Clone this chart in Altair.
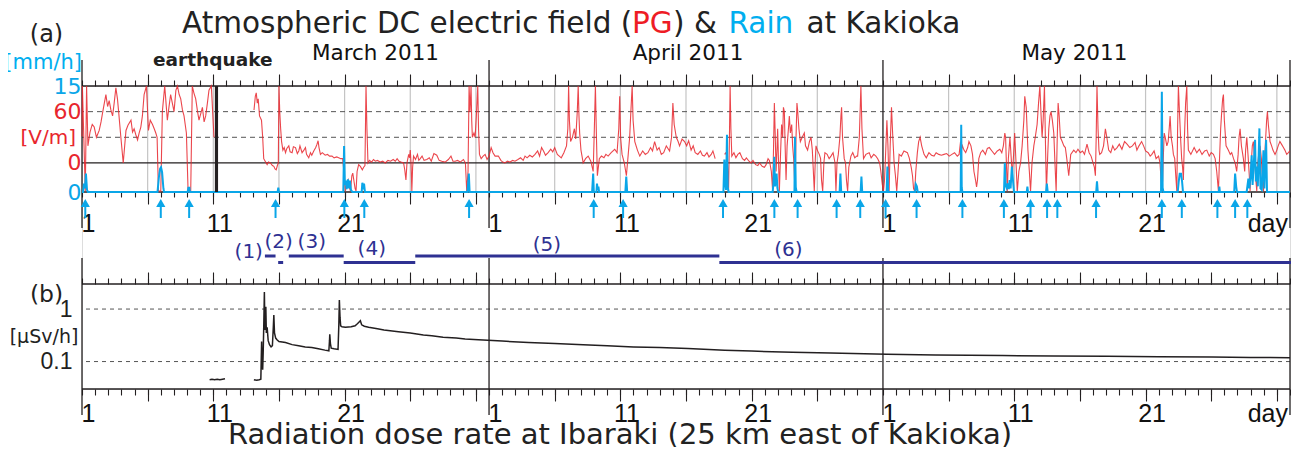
import altair as alt
import pandas as pd

FONT = "Liberation Sans"
WIDE = "DejaVu Sans"
RED = "#e8262d"
CYAN = "#0aa6e8"
BLUE = "#2e3192"
INK = "#231f20"

W, H = 1208, 303          # plot group (both panels)
X0, Y0 = 82, 86           # page position of the group's top-left corner
DAYS = 92


def gx(px):
    return px - X0


def gy(py):
    return py - Y0


# ---------------- data (days since 2011-03-01 00:00 UT) ----------------
# PG [V/m], three recorded segments
pg1_day = [0.0, 0.03, 0.25, 0.35, 0.45, 0.61, 0.78, 0.93, 1.1, 1.31, 1.45, 1.56, 1.7, 1.82, 1.95, 2.07, 2.2,
           2.33, 2.45, 2.58, 2.7, 2.79, 2.96, 3.14, 3.35, 3.5, 3.73, 3.85, 3.97, 4.1, 4.23, 4.35, 4.48, 4.6,
           4.73, 4.91, 5.06, 5.2, 5.37, 5.5, 5.62, 5.72, 5.82, 6.0, 6.12, 6.3, 6.4, 6.5, 6.62, 6.75, 6.88,
           7.01, 7.15, 7.27, 7.4, 7.52, 7.65, 7.77, 7.95, 8.08, 8.28, 8.4, 8.52, 8.66, 8.8, 8.91, 9.05,
           9.17, 9.3, 9.42, 9.55, 9.67, 9.85, 9.95, 10.05]
pg1_val = [31, 90, -33, 90, 20, 36, 45, 42, 30, 38, 48, 58, 70, 80, 66, 73, 62,
           55, 70, 88, 75, 60, 30, 0, 38, 44, 50, 36, 40, 33, 27, 35, 42, 55,
           80, 90, 38, 50, 45, 40, 35, 30, -33, -33, 60, 90, 70, 50, 65, 80, 70,
           60, 85, 90, 80, 75, 62, 55, 35, -33, -33, 90, 82, 75, 60, 50, 58,
           65, 48, 55, 70, 85, 90, 60, 30]

pg2_day = [13.1, 13.2, 13.27, 13.35, 13.42, 13.52, 13.67, 13.76, 13.84, 13.95, 14.1, 14.2, 14.35, 14.5, 14.61,
           14.7, 14.79, 14.88, 14.95, 15.0, 15.06, 15.13, 15.2, 15.3, 15.4, 15.5, 15.6, 15.75, 15.85, 16.0,
           16.1, 16.26, 16.4, 16.51, 16.6, 16.76, 16.9, 17.02, 17.1, 17.27, 17.4, 17.5, 17.65, 17.8, 17.9,
           17.98, 18.05, 18.16, 18.3, 18.52, 18.7, 18.85, 19.04, 19.2, 19.4, 19.55, 19.7, 19.85, 19.96, 20.06,
           20.15, 20.27, 20.35, 20.45, 20.55, 20.62, 20.72, 20.8, 20.87, 20.95, 21.07, 21.2, 21.35, 21.45,
           21.55, 21.63, 21.7, 21.78, 21.9, 22.05, 22.2, 22.34, 22.5, 22.7, 22.9, 23.1, 23.3, 23.5, 23.7,
           23.86, 24.0, 24.15, 24.3, 24.49, 24.58, 24.67, 24.75, 24.88, 24.95, 25.0, 25.06, 25.12, 25.18,
           25.25, 25.4, 25.55, 25.65, 25.76, 25.9, 26.05, 26.26, 26.45, 26.6, 26.8, 27.02, 27.2, 27.4, 27.65,
           27.9, 28.1, 28.25, 28.42, 28.6, 28.8, 29.05, 29.2, 29.3, 29.4, 29.48, 29.55, 29.63, 29.68, 29.73,
           29.85, 29.94, 30.05, 30.14, 30.2, 30.27, 30.4, 30.55, 30.7, 30.85, 31.0, 31.16, 31.3, 31.46,
           31.71, 31.9, 32.05, 32.2, 32.4, 32.6, 32.8, 32.98, 33.2, 33.4, 33.6, 33.74, 33.9, 34.1, 34.3,
           34.5, 34.7, 34.85, 35.0, 35.15, 35.3, 35.5, 35.7, 35.85, 36.0, 36.2, 36.35, 36.5, 36.7, 36.9,
           37.0, 37.06, 37.12, 37.21, 37.35, 37.5, 37.6, 37.72, 37.79, 37.85, 37.9, 38.0, 38.17, 38.35,
           38.55, 38.75, 38.93, 39.02, 39.1, 39.18, 39.25, 39.4, 39.56, 39.75, 39.9, 40.07, 40.3, 40.57,
           40.75, 40.88, 40.95, 41.02, 41.13, 41.3, 41.46, 41.6, 41.71, 41.8, 41.9, 41.97, 42.1, 42.3,
           42.48, 42.7, 42.9, 43.1, 43.3, 43.45, 43.61, 43.8, 43.95, 44.12, 44.3, 44.5, 44.75, 44.9, 45.0,
           45.1, 45.26, 45.4, 45.51, 45.7, 45.89, 46.05, 46.2, 46.39, 46.55, 46.7, 46.9, 47.1, 47.25, 47.4,
           47.6, 47.75, 47.92, 48.05, 48.22]
pg2_val = [62, 78, 82, 70, 75, 55, 50, 30, 5, 2, -2, 1, 0, -3, -4,
           -7, -8, -3, 0, 90, 60, 40, 25, 15, 18, 12, 17, 20, 13, 12,
           19, 18, 11, 14, 20, 12, 15, 18, 10, 6, 12, 9, 14, 18, 22,
           26, 18, 10, 12, 9, 10, 8, 8, 6, 7, 6, 5, 5, -12, -33,
           -25, -20, -28, -33, -15, -12, -22, -30, -33, -10, -2, -4, -8, -5,
           -3, 90, 40, 0, 3, 1, 4, 2, 3, 1, 2, 0, 3, 2, 4,
           2, 5, 2, 1, 0, -8, -20, 0, 10, 6, 15, 0, -33, -5,
           8, 4, 10, 3, 5, 8, 3, 4, 6, 2, 11, 9, 3, 2, 1,
           4, 8, 2, 2, 3, 1, 4, 0, -33, -10, 90, 60, 90, 50, 30,
           35, 30, 60, 90, 40, 10, 5, 8, 10, 4, 8, 18, 12, 8,
           8, 3, 1, 0, 2, 1, 3, 2, 4, 6, 3, 8, 6, 9, 7,
           10, 14, 8, 18, 14, 9, 12, 16, 13, 18, 10, 8, 6, 12, 20,
           40, 90, 50, 25, 30, 40, 28, 60, 90, 55, 35, 15, 0, 5,
           8, 2, -10, 40, 90, 30, -15, 5, 8, 6, 10, 8, 12, 16,
           12, 40, 78, 30, 10, 0, -15, 10, 30, 60, 90, 50, 25, 15,
           8, 14, 10, 12, 18, 14, 25, 15, 18, 10, 12, 20, 14, 30, 70,
           45, 30, 25, 20, 28, 25, 20, 26, 15, 20, 12, 10, 14, 9, 8,
           12, 7, 10, 14, 5]

pg3_day = [48.94, 49.04, 49.14, 49.24, 49.3, 49.36, 49.42, 49.49, 49.65, 49.8, 49.95, 50.1, 50.3, 50.46, 50.6,
           50.8, 50.96, 51.1, 51.3, 51.47, 51.6, 51.8, 51.97, 52.1, 52.25, 52.35, 52.5, 52.6, 52.67, 52.73,
           52.8, 52.86, 52.93, 52.98, 53.05, 53.11, 53.2, 53.28, 53.36, 53.42, 53.49, 53.55, 53.62, 53.7,
           53.8, 53.87, 53.95, 54.05, 54.12, 54.2, 54.3, 54.38, 54.45, 54.5, 54.6, 54.71, 54.85, 55.01, 55.1,
           55.26, 55.4, 55.52, 55.62, 55.7, 55.77, 55.85, 55.9, 56.0, 56.15, 56.25, 56.32, 56.41, 56.5, 56.58,
           56.75, 56.9, 57.04, 57.2, 57.35, 57.42, 57.5, 57.6, 57.72, 57.8, 57.85, 57.92, 58.05, 58.15, 58.22,
           58.31, 58.4, 58.56, 58.7, 58.85, 59.0, 59.07, 59.2, 59.32, 59.4, 59.52, 59.7, 59.95, 60.1, 60.3,
           60.46, 60.6, 60.75, 60.84, 60.95, 61.04, 61.12, 61.2, 61.3, 61.38, 61.47, 61.55, 61.65, 61.75,
           61.85, 61.95, 62.05, 62.15, 62.23, 62.4, 62.6, 62.86, 63.0, 63.15, 63.25, 63.33, 63.42, 63.5,
           63.62, 63.72, 63.83, 63.95, 64.13, 64.3, 64.5, 64.7, 64.89, 65.05, 65.25, 65.45, 65.65, 65.85,
           66.05, 66.25, 66.45, 66.66, 66.8, 66.91, 66.98, 67.05, 67.17, 67.3, 67.45, 67.55, 67.7, 67.82,
           67.93, 68.05, 68.13, 68.2, 68.3, 68.44, 68.6, 68.8, 68.95, 69.1, 69.3, 69.5, 69.71, 69.9, 70.05,
           70.17, 70.28, 70.34, 70.4, 70.47, 70.55, 70.67, 70.75, 70.85, 70.95, 71.03, 71.12, 71.23, 71.35,
           71.48, 71.6, 71.73, 71.8, 71.91, 72.04, 72.15, 72.24, 72.35, 72.49, 72.6, 72.74, 72.85, 72.95,
           73.03, 73.12, 73.2, 73.3, 73.38, 73.45, 73.55, 73.63, 73.72, 73.8, 73.9, 74.01, 74.1, 74.19,
           74.26, 74.34, 74.42, 74.51, 74.65, 74.78, 74.89, 75.0, 75.15, 75.3, 75.53, 75.7, 75.85, 76.03,
           76.2, 76.35, 76.54, 76.7, 76.85, 77.0, 77.1, 77.18, 77.24, 77.3, 77.38, 77.45, 77.51, 77.65,
           77.8, 77.94, 78.05, 78.19, 78.35, 78.5, 78.65, 78.83, 79.0, 79.2, 79.4, 79.59, 79.8, 80.0, 80.2,
           80.34, 80.5, 80.7, 80.85, 81.0, 81.2, 81.35, 81.48, 81.65, 81.8, 81.99, 82.1, 82.18, 82.24,
           82.3, 82.36, 82.42, 82.5, 82.62, 82.72, 82.8, 82.87, 82.95, 83.05, 83.12, 83.22, 83.3, 83.38,
           83.44, 83.5, 83.58, 83.68, 83.75, 83.82, 83.88, 83.96, 84.05, 84.14, 84.2, 84.26, 84.45, 84.7,
           84.9, 85.1, 85.3, 85.5, 85.66, 85.85, 86.0, 86.17, 86.3, 86.42, 86.55, 86.62, 86.72, 86.8,
           86.87, 86.93, 87.0, 87.13, 87.3, 87.45, 87.56, 87.7, 87.82, 87.94, 88.05, 88.12, 88.2, 88.3,
           88.45, 88.55, 88.62, 88.71, 88.8, 88.9, 88.96, 89.05, 89.13, 89.21, 89.3, 89.4, 89.47, 89.55,
           89.65, 89.72, 89.82, 89.9, 89.98, 90.05, 90.15, 90.22, 90.28, 90.35, 90.48, 90.6, 90.7, 90.86,
           91.0, 91.1, 91.23, 91.35, 91.5, 91.61, 91.75, 91.88, 91.99]
pg3_val = [10, 12, 5, -33, 20, 90, 40, 8, 12, 6, 10, 12, 5, 3, 6,
           2, 0, 3, -2, -3, 0, -4, -5, -2, 5, 3, -10, -33, 20, 70,
           30, -10, 15, 40, 0, -33, 10, 45, 30, 65, 60, 20, -20, 20,
           40, 55, 35, 45, 20, 5, -33, 30, 70, 62, 40, 25, 30, 35, 20,
           15, 25, 30, 15, -10, -33, 5, 20, 15, 10, 5, -20, -33, 0, 12,
           10, 5, 8, 12, 0, -33, 0, 10, 30, 55, 65, 30, 5, 0, -20,
           -33, -5, 8, 12, 6, 8, 8, 30, 90, 40, 5, 10, 12, 6, 10,
           8, 5, 0, -10, -25, -33, -20, 10, 50, 20, -33, 20, 65, 30,
           0, -15, -33, -10, 10, 8, 14, 12, 6, -5, -15, -30, -33, -10,
           12, 25, 30, 20, 10, 6, 12, 9, 8, 12, 10, 9, 10, 11,
           8, 10, 12, 8, 10, 25, 15, 20, 15, 12, 18, 25, 20, 10,
           -10, -20, -28, -20, 5, 12, 15, 10, 17, 18, 14, 10, 14, 16, 12,
           20, 35, 30, 0, -33, 5, 30, 10, -15, 10, 35, 5, -33, -10,
           0, 20, 50, 78, 65, 15, -10, -33, 0, 20, 30, 45, 70, 90,
           60, 30, 50, 90, 20, -33, 10, 40, 55, 60, 50, 35, 0, -33,
           20, 70, 55, 30, 25, 20, 18, 5, -15, 10, 15, 12, 16, 12,
           14, 10, 22, 12, 8, 0, -5, -15, 30, 90, 40, 15, 10, 12,
           20, 40, 30, 15, 12, 20, 15, 18, 22, 16, 25, 22, 18, 20, 24,
           15, 20, 25, 20, 14, 12, 8, 10, 14, 5, 8, 0, -20, -33,
           -20, 10, 35, 30, 20, 25, 40, 55, 30, 20, 10, 5, -15, -33,
           40, 90, 60, 25, 5, -5, -20, 30, 70, 90, 40, 15, 10, 18,
           12, 16, 10, 14, 15, 8, 12, 10, 5, -10, -33, 0, 40, 60,
           75, 80, 50, 20, 15, 10, 12, 5, 0, -10, 10, 30, 40, 20,
           5, -10, 15, 30, 10, -15, -33, 0, 20, 25, 5, -20, -33, 0,
           15, 20, 5, -20, -33, 0, 30, 50, 60, 45, 25, 20, 15, 10,
           15, 20, 25, 22, 18, 15, 10, 12, 14]

# Rain [mm/h]
rain_day = [0.0, 0.08, 0.15, 0.22, 0.3, 0.38, 0.45, 5.75, 5.85, 5.95, 6.02, 6.1, 6.2, 6.25, 8.05, 8.1, 8.18,
            8.22, 14.9, 14.95, 15.0, 19.9, 19.96, 20.02, 20.1, 20.15, 20.25, 20.32, 20.4, 20.48, 20.6, 21.3,
            21.35, 21.42, 21.48, 21.55, 29.35, 29.42, 29.46, 29.52, 38.85, 38.93, 38.98, 39.18, 39.22, 39.28,
            39.33, 39.38, 41.38, 41.45, 41.52, 48.85, 48.92, 48.98, 49.05, 49.12, 49.18, 49.24, 52.6, 52.66,
            52.72, 52.78, 52.85, 52.9, 52.96, 53.02, 54.26, 54.3, 54.36, 54.42, 57.7, 57.76, 57.82, 59.3,
            59.36, 59.42, 61.28, 61.34, 61.4, 63.45, 63.5, 63.58, 63.65, 66.92, 66.96, 67.0, 67.05, 70.22,
            70.28, 70.34, 70.42, 70.5, 70.58, 70.65, 70.72, 70.82, 70.9, 70.98, 71.95, 72.0, 72.05, 73.42,
            73.48, 73.55, 77.24, 77.3, 77.36, 82.18, 82.24, 82.3, 82.36, 83.45, 83.52, 83.6, 83.7, 83.78,
            83.85, 86.58, 86.62, 86.66, 87.75, 87.82, 87.9, 87.96, 88.7, 88.83, 88.9, 89.0, 89.08, 89.15,
            89.34, 89.4, 89.47, 89.55, 89.67, 89.75, 89.85, 89.98, 90.05, 90.18, 90.25, 92.0]
rain_val = [0, 0, 1.2, 0.5, 2.6, 0.3, 0, 0, 2.0, 3.3, 3.5, 2.8, 0.5, 0, 0, 0.6, 0.6,
            0, 0, 0.6, 0, 0, 6.5, 1.0, 1.6, 0.4, 1.8, 0.5, 1.6, 0.3, 0, 0,
            1.3, 0.8, 1.2, 0, 0, 1.5, 2.6, 0, 0, 2.6, 0, 0, 1.2, 0.3,
            0.75, 0, 0, 2.2, 0, 0, 4.6, 1.2, 0.3, 8.1, 0.7, 0, 0, 1.2,
            5.0, 0.8, 1.8, 2.6, 0.6, 0, 0, 7.8, 0.7, 0, 0, 2.6, 0, 0,
            2.2, 0, 0, 3.6, 0, 0, 1.1, 0.8, 0, 0, 9.5, 0.6, 0, 0,
            4.1, 1.0, 0.6, 1.2, 0.4, 1.7, 0.5, 3.6, 1.7, 0, 0, 0.75, 0, 0,
            1.2, 0, 0, 1.5, 0, 0, 14.2, 0.6, 0, 0, 1.4, 2.6, 2.6, 1.5,
            0, 0, 0.75, 0, 0, 2.6, 0.8, 0, 0, 1.9, 0.5, 2.2, 5.2, 1.0,
            7.4, 1.5, 3.6, 0.8, 9.0, 0.5, 0.3, 5.9, 0.5, 7.4, 0, 0]

# rain onset arrows
arrow_day = [0.25, 6.0, 8.16, 14.74, 19.98, 21.5, 29.48, 38.97, 41.21, 48.82, 52.73, 54.5, 57.47, 59.27,
             61.2, 63.56, 67.05, 70.21, 72.24, 73.5, 74.28, 77.23, 82.24, 83.76, 86.47, 87.82, 88.75]

earthquake_day = [10.24]

# Radiation dose rate [uSv/h]
rad1_day = [9.72, 9.9, 10.1, 10.3, 10.5, 10.7, 10.89]
rad1_val = [0.045, 0.046, 0.045, 0.046, 0.045, 0.046, 0.047]
rad2_day = [13.09, 13.3, 13.5, 13.62, 13.68, 13.72, 13.76, 13.8, 13.85, 13.89, 13.93, 13.97, 14.0, 14.04,
            14.1, 14.18, 14.28, 14.4, 14.5, 14.57, 14.61, 14.66, 14.75, 14.85, 15.0, 15.5, 16.0, 16.5, 17.0,
            17.5, 18.0, 18.5, 18.8, 18.85, 18.87, 18.92, 18.98, 19.2, 19.5, 19.56, 19.6, 19.65, 19.7, 19.8,
            20.06, 20.5, 20.8, 20.95, 21.05, 21.2, 21.3, 21.5, 21.83, 22.5, 23.0, 24.1, 25.0, 26.0, 26.64,
            27.5, 28.5, 29.18, 30.19, 32.0, 34.0, 36.0, 38.17, 40.0, 42.0, 44.0, 46.15, 48.94, 51.0, 54.1,
            57.0, 61.3, 65.0, 70.1, 74.0, 78.06, 82.0, 86.04, 89.0, 92.0]
rad2_val = [0.045, 0.044, 0.045, 0.046, 0.24, 0.09, 0.07, 0.15, 0.6, 2.1, 0.4, 0.9, 1.1, 0.35,
            0.45, 0.25, 0.21, 0.19, 0.2, 0.45, 0.77, 0.35, 0.28, 0.26, 0.24, 0.23, 0.21, 0.2, 0.19,
            0.185, 0.175, 0.165, 0.16, 0.25, 0.33, 0.22, 0.18, 0.175, 0.17, 0.5, 1.49, 0.7, 0.48, 0.46,
            0.45, 0.46, 0.48, 0.52, 0.55, 0.6, 0.5, 0.47, 0.45, 0.42, 0.4, 0.37, 0.35, 0.32, 0.31,
            0.29, 0.28, 0.27, 0.26, 0.245, 0.23, 0.22, 0.21, 0.2, 0.19, 0.185, 0.178, 0.165, 0.158, 0.15,
            0.145, 0.138, 0.134, 0.13, 0.128, 0.126, 0.124, 0.122, 0.12, 0.118]

# periods (1)-(6)
period_label = ["(1)", "(2)", "(3)", "(4)", "(5)", "(6)"]
period_start = [13.93, 14.94, 15.75, 19.93, 25.38, 48.54]
period_end = [14.74, 15.32, 19.93, 25.38, 48.54, 92.5]
period_row = ["upper", "lower", "upper", "lower", "upper", "lower"]
period_label_day = [12.7, 14.98, 17.5, 22.07, 35.4, 53.8]
period_label_y = [252, 241.7, 241.7, 249, 245, 250]

month_name = ["March 2011", "April 2011", "May 2011"]
month_name_day = [22.35, 46.15, 75.58]
month_start = [0, 31, 61, 92]
five_day = [5, 10, 15, 20, 25, 30, 36, 41, 46, 51, 56, 66, 71, 76, 81, 86, 91]
label_day = [0, 10, 20, 31, 41, 51, 61, 71, 81]
all_days = list(range(0, 93))

# ---------------- scales ----------------
XS = alt.Scale(domain=[0, DAYS], nice=False, zero=False)
PG_SC = alt.Scale(domain=[-34, 90], range=[106, 0], nice=False, zero=False)
RAIN_SC = alt.Scale(domain=[0, 15], range=[106, 0], nice=False, zero=False)
RAD_SC = alt.Scale(type="log", domain=[0.03, 3], range=[303, 198], nice=False)


def xq(field="d"):
    return alt.X(f"{field}:Q", scale=XS, axis=None)


layers = []

# gray 5-day grid in panel (a)
layers.append(alt.Chart(pd.DataFrame({"d": five_day})).mark_rule(color="#c4c4c4", strokeWidth=1.2)
              .encode(x=xq(), y=alt.value(0), y2=alt.value(106)))

# horizontal reference lines panel (a)
layers.append(alt.Chart(pd.DataFrame({"v": [30, 60]})).mark_rule(color="#555", strokeWidth=1, strokeDash=[5, 4])
              .encode(y=alt.Y("v:Q", scale=PG_SC, axis=None)))
layers.append(alt.Chart(pd.DataFrame({"v": [90, 0, -34]})).mark_rule(color=INK, strokeWidth=1.3)
              .encode(y=alt.Y("v:Q", scale=PG_SC, axis=None)))

# panel (b) reference lines
layers.append(alt.Chart(pd.DataFrame({"v": [0.1, 1]})).mark_rule(color="#555", strokeWidth=1, strokeDash=[4, 4])
              .encode(y=alt.Y("v:Q", scale=RAD_SC, axis=None)))
layers.append(alt.Chart(pd.DataFrame({"v": [3, 0.03]})).mark_rule(color=INK, strokeWidth=1.3)
              .encode(y=alt.Y("v:Q", scale=RAD_SC, axis=None)))

# month boundary lines
ms = pd.DataFrame({"d": month_start})
layers.append(alt.Chart(ms).mark_rule(color=INK, strokeWidth=1.3)
              .encode(x=xq(), y=alt.value(gy(60)), y2=alt.value(gy(228))))
layers.append(alt.Chart(ms).mark_rule(color=INK, strokeWidth=1.3)
              .encode(x=xq(), y=alt.value(gy(258)), y2=alt.value(gy(415))))

# PG line
pg = pd.concat([
    pd.DataFrame({"d": pg1_day, "v": pg1_val, "seg": 1}),
    pd.DataFrame({"d": pg2_day, "v": pg2_val, "seg": 2}),
    pd.DataFrame({"d": pg3_day, "v": pg3_val, "seg": 3}),
])
layers.append(alt.Chart(pg).mark_line(color=RED, strokeWidth=1.1, opacity=0.85).encode(
    x=xq(),
    y=alt.Y("v:Q", scale=PG_SC, axis=alt.Axis(orient="left", values=[0, 60], labelColor=RED, labelFontSize=22,
                                                labelFont=WIDE, labelPadding=1, ticks=False, tickSize=0,
                                                domain=False, grid=False, title=None)),
    detail="seg:N"))

# Rain line
rain = pd.DataFrame({"d": rain_day, "v": rain_val})
layers.append(alt.Chart(rain).mark_line(color=CYAN, strokeWidth=2).encode(
    x=xq(),
    y=alt.Y("v:Q", scale=RAIN_SC, axis=alt.Axis(orient="left", values=[0, 15], labelColor=CYAN, labelFontSize=22,
                                                  labelFont=WIDE, labelPadding=1, ticks=False, tickSize=0,
                                                  domain=False, grid=False, title=None))))

# earthquake bar
layers.append(alt.Chart(pd.DataFrame({"d": earthquake_day})).mark_rule(color=INK, strokeWidth=3.2)
              .encode(x=xq(), y=alt.value(0), y2=alt.value(106)))

# rain arrows
arr = pd.DataFrame({"d": arrow_day})
layers.append(alt.Chart(arr).mark_rule(color=CYAN, strokeWidth=2)
              .encode(x=xq(), y=alt.value(gy(205)), y2=alt.value(gy(218))))
layers.append(alt.Chart(arr).mark_point(shape="triangle-up", filled=True, size=85, color=CYAN, opacity=1)
              .encode(x=xq(), y=alt.value(gy(203))))

# Radiation
rad = pd.concat([
    pd.DataFrame({"d": rad1_day, "v": rad1_val, "seg": 1}),
    pd.DataFrame({"d": rad2_day, "v": rad2_val, "seg": 2}),
])
layers.append(alt.Chart(rad).mark_line(color=INK, strokeWidth=1.5).encode(
    x=xq(),
    y=alt.Y("v:Q", scale=RAD_SC, axis=alt.Axis(orient="left", values=[0.1, 1], format="~g", labelColor=INK,
                                                 labelFontSize=23, labelPadding=10, ticks=False, tickSize=0,
                                                 domain=False, grid=False, title=None)),
    detail="seg:N"))

# periods
per = pd.DataFrame({"s": period_start, "e": period_end, "row": period_row})
layers.append(alt.Chart(per[per.row == "upper"]).mark_rule(color=BLUE, strokeWidth=3)
              .encode(x=xq("s"), x2="e:Q", y=alt.value(gy(256))))
layers.append(alt.Chart(per[per.row == "lower"]).mark_rule(color=BLUE, strokeWidth=3)
              .encode(x=xq("s"), x2="e:Q", y=alt.value(gy(262.5))))
for lab, dd, yy in zip(period_label, period_label_day, period_label_y):
    layers.append(alt.Chart(pd.DataFrame({"d": [dd], "t": [lab]}))
                  .mark_text(font=WIDE, fontSize=20, color=BLUE, baseline="middle", align="center")
                  .encode(x=xq(), y=alt.value(gy(yy)), text="t:N"))

# month names and earthquake label
layers.append(alt.Chart(pd.DataFrame({"d": month_name_day, "t": month_name}))
              .mark_text(font=WIDE, fontSize=21.5, color="#111", baseline="alphabetic", align="center")
              .encode(x=xq(), y=alt.value(gy(59.5)), text="t:N"))
layers.append(alt.Chart(pd.DataFrame({"d": [9.96], "t": ["earthquake"]}))
              .mark_text(font=WIDE, fontSize=18.5, fontWeight="bold", color="#222", baseline="alphabetic",
                         align="center")
              .encode(x=xq(), y=alt.value(gy(66)), text="t:N"))


def free_text(txt, px, py, size, color=INK, align="left", baseline="alphabetic", font=WIDE):
    return (alt.Chart(pd.DataFrame({"t": [txt]}))
            .mark_text(font=font, fontSize=size, color=color, align=align, baseline=baseline)
            .encode(x=alt.value(gx(px)), y=alt.value(gy(py)), text="t:N"))


# main title (multi-coloured)
TS = 29.5
TB = 32.5
layers.append(free_text("Atmospheric DC electric field (", 182, TB, TS, "#222"))
layers.append(free_text("PG", 632, TB, TS, "#ee1c25"))
layers.append(free_text(") &", 673, TB, TS, "#222"))
layers.append(free_text("Rain", 728.5, TB, TS, "#00aeef"))
layers.append(free_text("at Kakioka", 806.5, TB, TS, "#222"))
layers.append(free_text("Radiation dose rate at Ibaraki (25 km east of Kakioka)", 620, 443.5, 29, "#222",
                        align="center"))
layers.append(free_text("(a)", 46.5, 35, 24, "#222", align="center", baseline="middle"))
layers.append(free_text("(b)", 46.5, 294.5, 23.5, "#222", align="center", baseline="middle"))
layers.append(free_text("[mm/h]", 82, 62.5, 21, "#00aeef", align="right", baseline="middle"))
layers.append(free_text("[V/m]", 76, 138, 20, RED, align="right", baseline="middle"))
layers.append(free_text("[\u03bcSv/h]", 44, 336.5, 19, "#222", align="center", baseline="middle"))
layers.append(free_text("day", 1288, 232, 25, "#111", align="right", font=FONT))
layers.append(free_text("day", 1288, 421.5, 25, "#111", align="right", font=FONT))


# x axes (ticks and day labels)
def tick_axis(values, orient, offset, size):
    ax = alt.Axis(orient=orient, offset=offset, values=values, ticks=True, tickSize=size, tickColor=INK,
                  tickWidth=1.1, domain=False, grid=False, labels=False, title=None)
    return alt.Chart(pd.DataFrame({"d": [0]})).mark_point(opacity=0).encode(
        x=alt.X("d:Q", scale=XS, axis=ax))


def label_axis(offset, pad):
    ax = alt.Axis(orient="bottom", offset=offset, values=label_day, ticks=False, tickSize=0, domain=False,
                  grid=False, labels=True, labelFontSize=25, labelColor="#111", labelPadding=pad,
                  labelOffset=6, labelFlush=False, labelOverlap=False, title=None,
                  labelExpr="datum.value < 31 ? datum.value + 1 : (datum.value < 61 ? datum.value - 30 : datum.value - 60)")
    return alt.Chart(pd.DataFrame({"d": [0]})).mark_point(opacity=0).encode(
        x=alt.X("d:Q", scale=XS, axis=ax))


layers += [
    tick_axis(all_days, "top", 0, 6), tick_axis(five_day, "top", 0, 12),
    tick_axis(all_days, "bottom", -(H - 106), 5), tick_axis(five_day, "bottom", -(H - 106), 12),
    tick_axis(all_days, "top", -198, 6), tick_axis(five_day, "top", -198, 12),
    tick_axis(all_days, "bottom", 0, 6), tick_axis(five_day, "bottom", 0, 12),
    label_axis(-(H - 106), 19.5), label_axis(0, 12.5),
]

chart = (alt.layer(*layers)
         .resolve_scale(x="independent", y="independent")
         .properties(width=W, height=H, autosize=alt.AutoSizeParams(type="none"),
                     padding={"left": X0 - 8, "top": Y0 - 8, "right": 1, "bottom": 58}, background="white")
         .configure_view(strokeWidth=0)
         .configure(font=FONT)
         .configure_axis(labelFont=FONT))

chart.save("out.html", embed_options={"renderer": "svg", "actions": False})
